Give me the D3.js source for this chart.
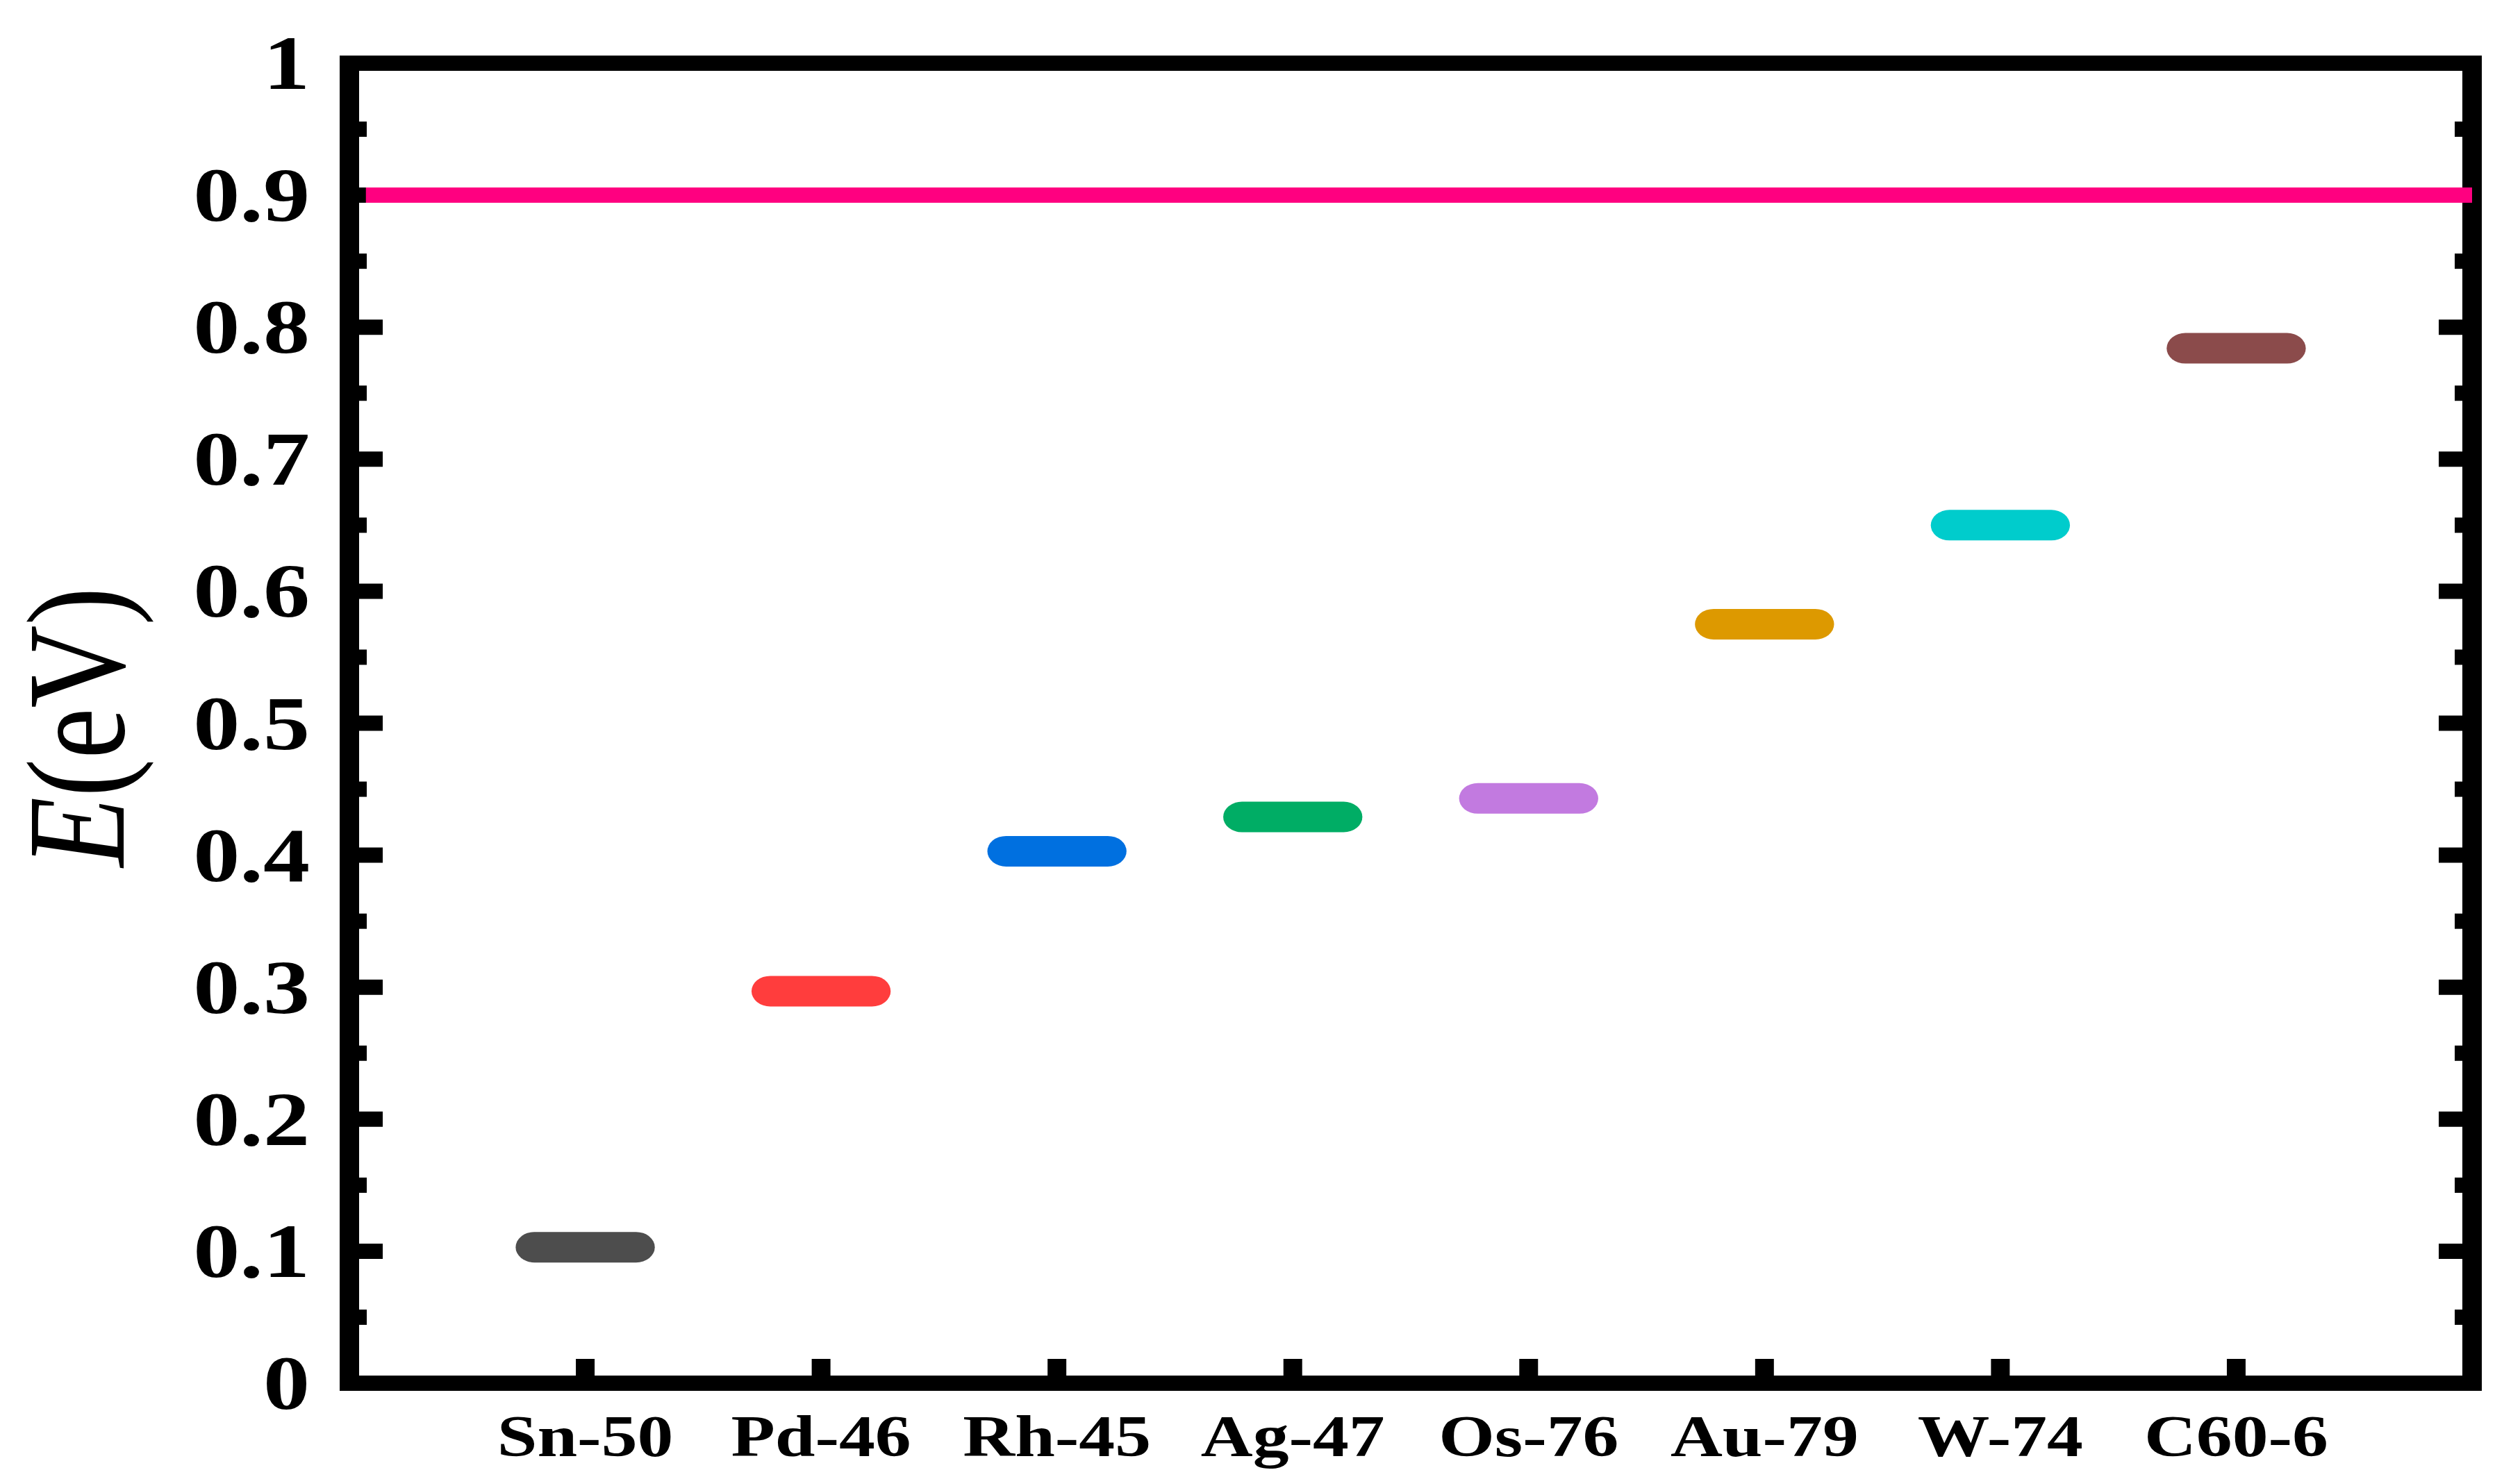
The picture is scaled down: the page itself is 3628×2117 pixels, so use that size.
<!DOCTYPE html>
<html>
<head>
<meta charset="utf-8">
<script src="https://cdn.jsdelivr.net/npm/d3@7"></script>
<style>
  html, body { margin: 0; padding: 0; background: #ffffff; }
  svg { display: block; }
</style>
</head>
<body>
<script>
// ---- data ----
const categories = ["Sn-50", "Pd-46", "Rh-45", "Ag-47", "Os-76", "Au-79", "W-74", "C60-6"];
const energies   = [0.103, 0.297, 0.403, 0.429, 0.443, 0.575, 0.650, 0.784];
const colors     = ["#4d4d4d", "#ff3d3d", "#0070e0", "#00ad65", "#c27ae0", "#dd9900", "#00cccc", "#8b4b4b"];
const majorTicks = [0, 0.1, 0.2, 0.3, 0.4, 0.5, 0.6, 0.7, 0.8, 0.9, 1];
const tickLabels = ["0", "0.1", "0.2", "0.3", "0.4", "0.5", "0.6", "0.7", "0.8", "0.9", "1"];
const minorTicks = [0.05, 0.15, 0.25, 0.35, 0.45, 0.55, 0.65, 0.75, 0.85, 0.95];
const refLevel   = 0.9;
const refColor   = "#ff0080";
const yTitleMain = "E";
const yTitleRest = "(eV)";

// ---- layout ----
const W = 3628, H = 2117;
const svg = d3.select("body").append("svg").attr("width", W).attr("height", H);
svg.append("rect").attr("width", W).attr("height", H).attr("fill", "#fff");

const x = d3.scaleLinear().domain([0, 9]).range([503, 3559]);
const y = d3.scaleLinear().domain([0, 1]).range([1992, 91]);
const xpos = i => x(i + 1);

const serif = "'Liberation Serif', 'Times New Roman', serif";
const sx = 1.22; // horizontal stretch of the original image

// level bars
const halfW = 0.295;
svg.append("g").selectAll("rect").data(energies).join("rect")
  .attr("x", (d, i) => x(i + 1 - halfW))
  .attr("width", (d, i) => x(i + 1 + halfW) - x(i + 1 - halfW))
  .attr("y", d => y(d) - 22)
  .attr("height", 44)
  .attr("rx", 27).attr("ry", 22)
  .attr("fill", (d, i) => colors[i]);

// frame
const fr = svg.append("g").attr("stroke", "#000");
const [x0, x1] = x.range();
const [yb, yt] = y.range();
fr.append("line").attr("x1", x0).attr("x2", x0).attr("y1", yt - 11).attr("y2", yb + 11).attr("stroke-width", 28);
fr.append("line").attr("x1", x1).attr("x2", x1).attr("y1", yt - 11).attr("y2", yb + 11).attr("stroke-width", 28);
fr.append("line").attr("x1", x0 - 14).attr("x2", x1 + 14).attr("y1", yt).attr("y2", yt).attr("stroke-width", 22);
fr.append("line").attr("x1", x0 - 14).attr("x2", x1 + 14).attr("y1", yb).attr("y2", yb).attr("stroke-width", 22);

// y ticks (left & right, inward)
const tk = svg.append("g").attr("stroke", "#000").attr("stroke-width", 22);
majorTicks.forEach(v => {
  tk.append("line").attr("x1", x0).attr("x2", x0 + 48).attr("y1", y(v)).attr("y2", y(v));
  tk.append("line").attr("x1", x1).attr("x2", x1 - 48).attr("y1", y(v)).attr("y2", y(v));
});
minorTicks.forEach(v => {
  tk.append("line").attr("x1", x0).attr("x2", x0 + 25).attr("y1", y(v)).attr("y2", y(v));
  tk.append("line").attr("x1", x1).attr("x2", x1 - 25).attr("y1", y(v)).attr("y2", y(v));
});
// x ticks (bottom, inward)
categories.forEach((c, i) => {
  tk.append("line").attr("x1", xpos(i)).attr("x2", xpos(i))
    .attr("y1", yb).attr("y2", yb - 35).attr("stroke-width", 27);
});

// reference line
svg.append("line")
  .attr("x1", x(0.07)).attr("x2", x(9))
  .attr("y1", y(refLevel)).attr("y2", y(refLevel))
  .attr("stroke", refColor).attr("stroke-width", 22);

// y tick labels
svg.append("g").selectAll("text").data(majorTicks).join("text")
  .attr("transform", d => `translate(446,${y(d) + 37}) scale(${sx},1)`)
  .attr("text-anchor", "end")
  .attr("font-family", serif).attr("font-weight", "bold").attr("font-size", 110)
  .attr("fill", "#000")
  .text((d, i) => tickLabels[i]);

// x category labels
svg.append("g").selectAll("text").data(categories).join("text")
  .attr("transform", (d, i) => `translate(${xpos(i)},2097) scale(${sx},1)`)
  .attr("text-anchor", "middle")
  .attr("font-family", serif).attr("font-weight", "bold").attr("font-size", 85)
  .attr("fill", "#000")
  .text(d => d);

// y title
const yt_ = svg.append("text")
  .attr("transform", `translate(178,1047) scale(${sx},1) rotate(-90)`)
  .attr("text-anchor", "middle")
  .attr("font-family", serif).attr("font-size", 165).attr("fill", "#000");
yt_.append("tspan").attr("font-style", "italic").text(yTitleMain);
yt_.append("tspan").text(yTitleRest);
</script>
</body>
</html>
